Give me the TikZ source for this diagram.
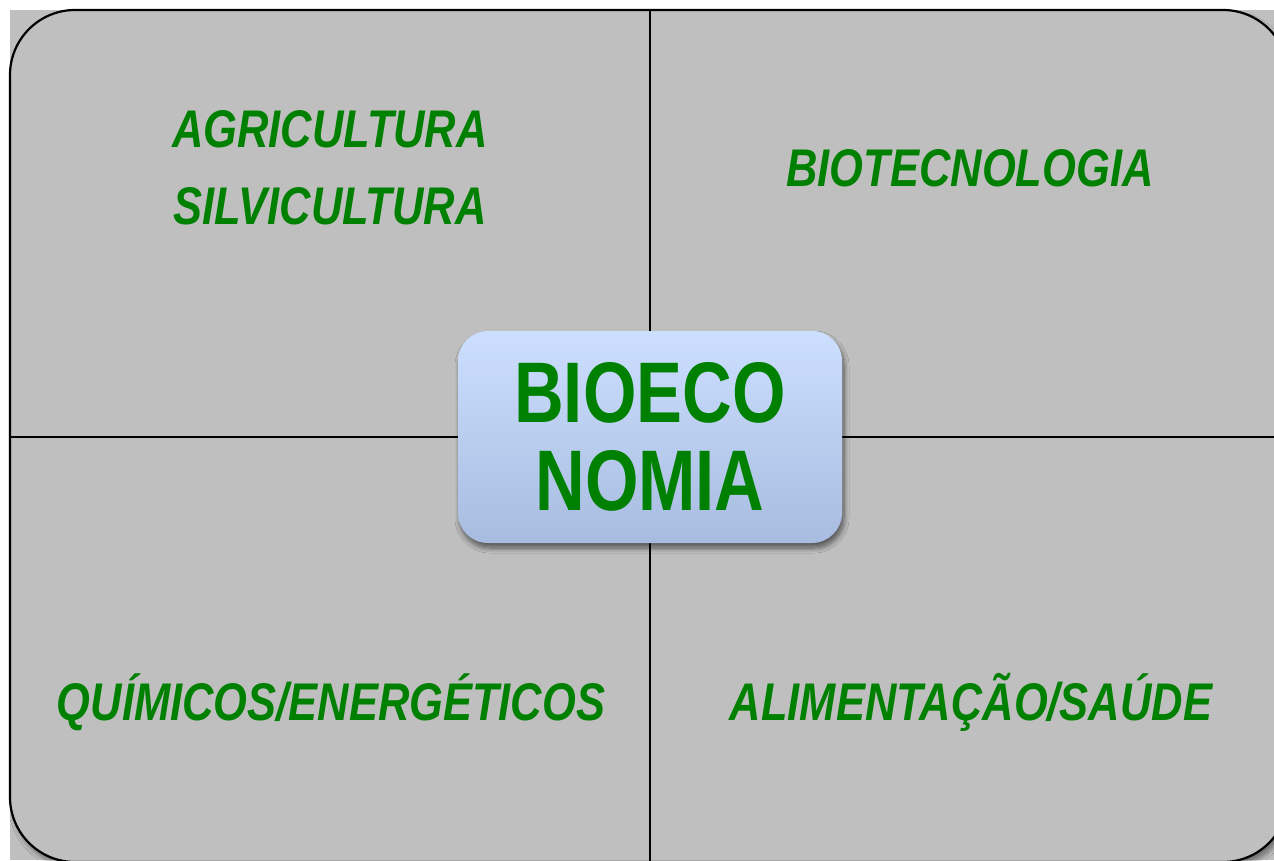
\documentclass[tikz,border=0pt]{standalone}
\usepackage{fontspec}
\newfontfamily\narrowsans{Liberation Sans}[FakeStretch=0.8]
\newfontfamily\labelsans{Liberation Sans}[FakeStretch=0.82]
\usetikzlibrary{shadows.blur}
\definecolor{labelgreen}{HTML}{008000}
\definecolor{panelgray}{HTML}{BFBFBF}
\definecolor{boxtop}{HTML}{CCDFFF}
\definecolor{boxbottom}{HTML}{A8BCE0}
\tikzset{
  sector/.style={font=\labelsans\bfseries\itshape\fontsize{53}{77}\selectfont, text=labelgreen, align=center, inner sep=0pt},
  centerbox/.style={rounded corners=30pt, minimum width=384pt, minimum height=212pt, top color=boxtop, bottom color=boxbottom, draw=none,
    blur shadow={shadow xshift=2pt, shadow yshift=-5pt, shadow blur radius=5pt, shadow blur steps=10, shadow opacity=55},
    font=\narrowsans\bfseries\fontsize{86}{88}\selectfont, text=labelgreen, align=center, inner sep=0pt},
  divider/.style={draw=black, line width=1.3pt}
}
\begin{document}
\begin{tikzpicture}[x=1pt,y=-1pt]
\useasboundingbox (0,0) rectangle (1274,860);
\clip (0,0) rectangle (1274,860);
\fill[panelgray] (10,10) rectangle (1274,860);
\draw[line width=2.2pt, fill=panelgray, rounded corners=65pt,
  blur shadow={shadow xshift=3pt, shadow yshift=-5pt, shadow blur radius=5pt, shadow blur steps=10, shadow opacity=45}]
  (10,10) rectangle (1288,862);
\coordinate (vtop) at (650,10);
\coordinate (vbot) at (650,862);
\coordinate (hleft) at (10,437);
\coordinate (hright) at (1288,437);
\draw[divider] (vtop) -- (vbot);
\draw[divider] (hleft) -- (hright);
\node[centerbox] (bio) at (650,437) {BIOECO\\NOMIA};
\node[sector] (agri) at (330,168) {AGRICULTURA\\SILVICULTURA};
\node[sector] (biotec) at (970,168) {BIOTECNOLOGIA};
\node[sector] (quim) at (331,702) {QUÍMICOS/ENERGÉTICOS};
\node[sector] (alim) at (971,702) {ALIMENTAÇÃO/SAÚDE};
\end{tikzpicture}
\end{document}
